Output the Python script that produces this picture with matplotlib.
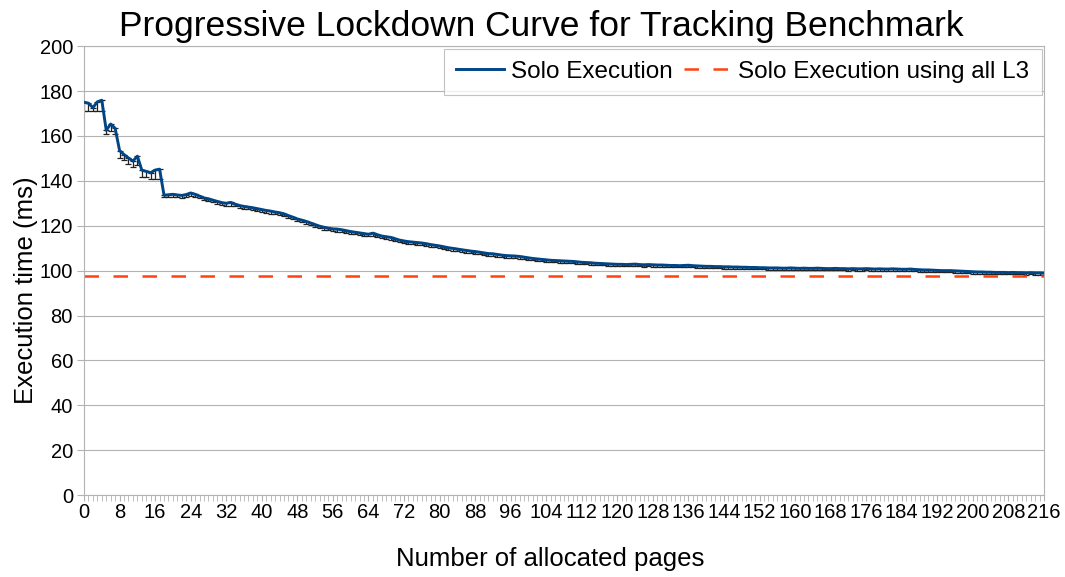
import matplotlib
matplotlib.use('Agg')
import matplotlib.pyplot as plt
import numpy as np

plt.rcParams['font.family'] = ['Liberation Sans', 'DejaVu Sans']

# execution time per number of allocated pages (ms)
pages = list(range(0, 217))
solo_time = [
    175.0, 174.6, 172.6, 175.2, 175.9, 162.5, 165.3, 163.4, 153.5, 151.7,
    150.2, 148.8, 151.0, 144.8, 144.2, 143.6, 144.8, 145.2, 133.6, 133.8,
    134.0, 133.7, 133.5, 133.9, 134.6, 134.0, 133.2, 132.4, 132.0, 131.4,
    130.8, 130.3, 130.0, 130.4, 129.6, 129.0, 128.6, 128.3, 128.0, 127.6,
    127.2, 126.8, 126.5, 126.1, 125.8, 125.3, 124.5, 123.8, 123.0, 122.5,
    121.9, 121.2, 120.5, 119.8, 119.3, 118.9, 118.6, 118.5, 118.2, 117.8,
    117.4, 117.1, 116.8, 116.5, 116.2, 116.7, 116.0, 115.4, 115.1, 114.8,
    114.2, 113.6, 113.2, 112.9, 112.7, 112.5, 112.3, 112.0, 111.6, 111.3,
    111.0, 110.6, 110.2, 109.9, 109.6, 109.3, 109.0, 108.7, 108.5, 108.2,
    107.9, 107.6, 107.5, 107.2, 106.9, 106.7, 106.6, 106.5, 106.3, 106.0,
    105.7, 105.4, 105.2, 105.0, 104.8, 104.6, 104.5, 104.4, 104.3, 104.2,
    104.1, 103.9, 103.7, 103.6, 103.5, 103.3, 103.2, 103.1, 103.0, 102.9,
    102.8, 102.8, 102.7, 102.8, 102.9, 102.7, 102.6, 102.7, 102.6, 102.5,
    102.5, 102.4, 102.3, 102.3, 102.2, 102.3, 102.4, 102.2, 102.1, 102.0,
    101.9, 101.9, 101.8, 101.8, 101.7, 101.7, 101.6, 101.6, 101.5, 101.5,
    101.4, 101.4, 101.3, 101.3, 101.2, 101.2, 101.2, 101.1, 101.1, 101.2,
    101.1, 101.0, 101.1, 101.0, 101.0, 101.1, 101.0, 100.9, 100.9, 101.0,
    100.9, 100.9, 100.8, 100.9, 100.8, 100.8, 100.9, 100.8, 100.7, 100.8,
    100.7, 100.7, 100.8, 100.7, 100.6, 100.6, 100.7, 100.5, 100.4, 100.3,
    100.3, 100.2, 100.1, 100.0, 100.0, 100.0, 99.9, 99.8, 99.7, 99.6,
    99.5, 99.4, 99.4, 99.3, 99.3, 99.2, 99.2, 99.2, 99.1, 99.2,
    99.1, 99.1, 99.0, 99.1, 99.0, 99.0, 98.9,
]
# distance from each point down to its lowest measurement (ms)
solo_err_low = [
    4.0, 3.5, 1.5, 4.0, 5.0, 1.5, 3.0, 2.5, 3.5, 2.5,
    2.5, 2.5, 4.0, 3.0, 2.5, 3.0, 4.0, 4.5, 1.0, 1.0,
    1.2, 1.0, 1.0, 1.2, 1.5, 1.2, 1.0, 1.0, 1.2, 1.0,
    1.0, 1.0, 1.0, 1.5, 1.0, 1.0, 1.2, 1.0, 1.0, 1.0,
    1.0, 1.0, 1.2, 1.0, 1.0, 1.0, 1.2, 1.0, 1.0, 1.0,
    1.0, 1.0, 1.0, 1.0, 1.0, 1.0, 1.0, 1.2, 1.0, 1.0,
    1.0, 1.0, 1.0, 1.0, 1.0, 1.5, 1.0, 1.0, 1.0, 1.0,
    1.0, 1.0, 1.0, 1.0, 1.0, 1.0, 1.0, 1.0, 1.0, 1.0,
    1.0, 1.0, 1.0, 1.0, 1.0, 1.0, 1.0, 1.0, 1.0, 1.0,
    1.0, 1.0, 1.2, 1.0, 1.0, 1.0, 1.0, 1.0, 1.0, 1.0,
    0.8, 0.8, 0.8, 0.8, 0.8, 0.8, 0.8, 0.8, 0.8, 0.8,
    0.8, 0.8, 0.8, 0.8, 0.8, 0.8, 0.8, 0.8, 0.8, 0.8,
    0.8, 0.8, 0.8, 0.8, 1.0, 0.8, 0.8, 0.8, 0.8, 0.8,
    0.8, 0.8, 0.8, 0.8, 0.8, 0.8, 1.0, 0.8, 0.8, 0.8,
    0.8, 0.8, 0.8, 0.8, 0.8, 0.8, 0.8, 0.8, 0.8, 0.8,
    0.8, 0.8, 0.8, 0.8, 0.8, 0.8, 0.8, 0.8, 0.8, 1.0,
    0.8, 0.8, 0.8, 0.8, 0.8, 0.8, 0.8, 0.8, 0.8, 0.8,
    0.8, 0.8, 0.8, 0.8, 0.8, 0.8, 0.8, 0.8, 0.8, 0.8,
    0.8, 0.8, 0.8, 0.8, 0.8, 0.8, 0.8, 0.8, 0.8, 0.8,
    0.8, 0.8, 0.8, 0.8, 0.8, 0.8, 0.8, 0.8, 0.8, 0.8,
    0.8, 0.8, 0.8, 0.8, 0.8, 0.8, 0.8, 0.8, 0.8, 0.8,
    0.8, 0.8, 0.8, 0.8, 0.8, 0.8, 0.8,
]
all_l3_time = 97.8

x_major = list(range(0, 217, 8))
y_major = list(range(0, 201, 20))


def main():
    fig = plt.figure(figsize=(10.65, 5.77), dpi=100)
    ax = fig.add_axes([0.0789, 0.142, 0.9014, 0.778])

    x = np.array(pages)
    y = np.array(solo_time)
    err = np.array(solo_err_low)

    # lower-only error bars, curve drawn over them
    ax.errorbar(x, y, yerr=[err, np.zeros_like(err)], fmt='none',
                ecolor='#222222', elinewidth=0.9, capsize=2.5,
                capthick=0.9, zorder=2)
    ax.plot(x, y, color='#004586', lw=2.1, zorder=3,
            label='Solo Execution')
    ax.plot([pages[0], pages[-1]], [all_l3_time, all_l3_time],
            color='#ff420e', lw=1.8, dashes=(5.8, 5.8), zorder=2,
            label='Solo Execution using all L3')

    ax.set_xlim(0, 216)
    ax.set_ylim(0, 200)
    ax.set_xticks(x_major)
    ax.set_xticks(pages, minor=True)
    ax.set_yticks(y_major)
    ax.grid(axis='y', color='#b3b3b3', lw=0.8)
    ax.set_axisbelow(True)
    for s in ax.spines.values():
        s.set_color('#b3b3b3')
        s.set_linewidth(0.8)
    ax.tick_params(axis='both', which='both', color='#b3b3b3',
                   labelsize=14.5, labelcolor='black')
    ax.tick_params(axis='x', which='major', length=4, pad=2)
    ax.tick_params(axis='x', which='minor', length=4)
    ax.tick_params(axis='y', length=5, pad=3)

    ax.set_title('Progressive Lockdown Curve for Tracking Benchmark',
                 fontsize=25.5, pad=7, x=0.476)
    ax.set_xlabel('Number of allocated pages', fontsize=18.5, labelpad=18,
                  x=0.486)
    ax.set_ylabel('Execution time (ms)', fontsize=18.5, labelpad=1,
                  y=0.457)

    leg = ax.legend(loc='upper right', ncol=2, fontsize=17.5,
                    frameon=True, fancybox=False, borderaxespad=0.1,
                    handlelength=1.95, columnspacing=0.45, handletextpad=0.3,
                    borderpad=0.5)
    leg.get_frame().set_edgecolor('#b3b3b3')
    leg.get_frame().set_linewidth(0.8)

    fig.savefig('out.png', dpi=100)


if __name__ == '__main__':
    main()
